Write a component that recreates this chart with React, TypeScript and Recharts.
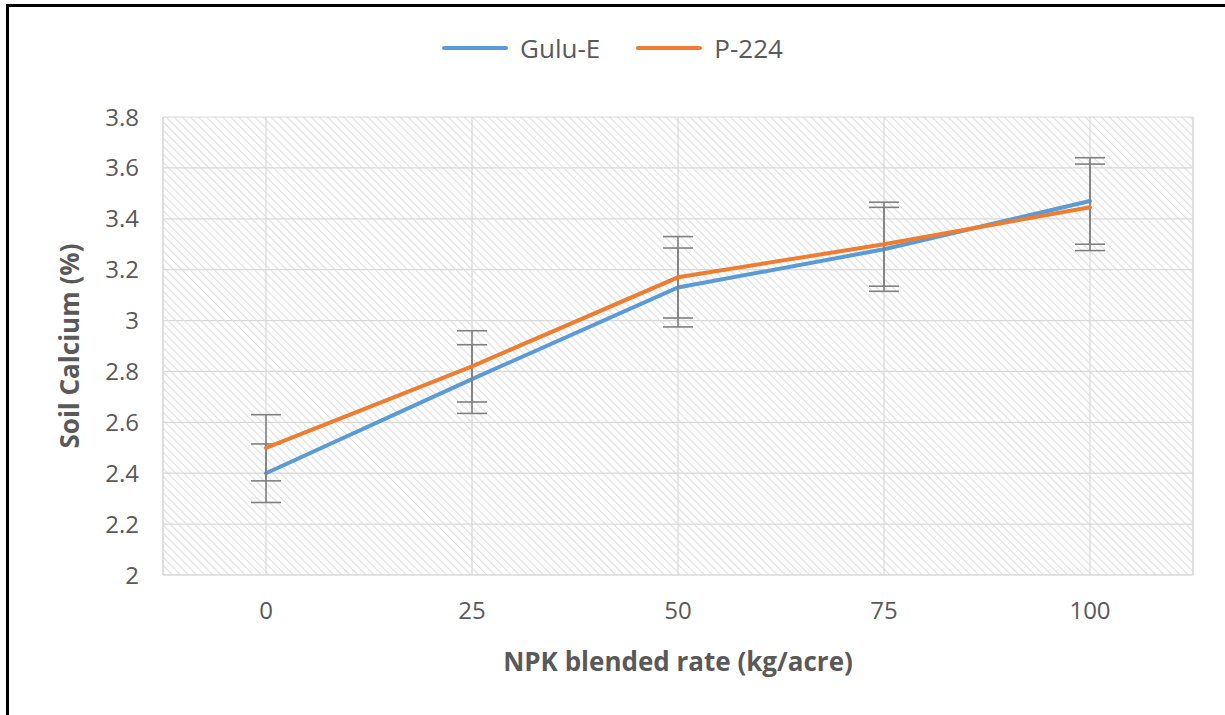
import { LineChart, Line, XAxis, YAxis, CartesianGrid, Legend, ErrorBar, ReferenceLine, Label } from 'recharts';

// NPK rate categories (kg/acre)
const rates = [0, 25, 50, 75, 100];

// soil calcium (%) per variety
const guluE = [2.40, 2.77, 3.13, 3.28, 3.47];
const p224 = [2.50, 2.82, 3.17, 3.30, 3.445];

// +/- error bar sizes
const guluErr = [0.115, 0.135, 0.155, 0.165, 0.17];
const p224Err = [0.13, 0.14, 0.16, 0.165, 0.17];

const yTicks = [2, 2.2, 2.4, 2.6, 2.8, 3, 3.2, 3.4, 3.6, 3.8];

const data = rates.map((r, i) => ({
    rate: r,
    guluE: guluE[i],
    p224: p224[i],
    guluErr: guluErr[i],
    p224Err: p224Err[i],
}));

const textColor = '#595959';
const gridColor = '#d9d9d9';

const LegendContent = (props: any) => {
    const items = props.payload || [];
    return (
        <div style={{ display: 'flex', justifyContent: 'center', alignItems: 'center', gap: 36 }}>
            {items.map((item: any) => (
                <div key={item.value} style={{ display: 'flex', alignItems: 'center' }}>
                    <svg width={66} height={10}>
                        <line x1={2} y1={5} x2={64} y2={5} stroke={item.color} strokeWidth={4} strokeLinecap='round' />
                    </svg>
                    <span style={{ marginLeft: 12, fontSize: 26, color: textColor }}>{item.value}</span>
                </div>
            ))}
        </div>
    );
};

const App = () => {
    return (
        <div style={{ position: 'fixed', left: 0, top: 0, width: 1225, height: 715, overflow: 'hidden', background: '#fff', fontFamily: '"Open Sans", sans-serif' }}>
            <div style={{ position: 'absolute', left: 6, top: 4, width: 1300, height: 800, border: '3px solid #000', pointerEvents: 'none' }} />
            <LineChart width={1225} height={715} data={data} margin={{ top: 117, right: 32, bottom: 0, left: 0 }}>
                <defs>
                    <pattern id='hatch' width={5.7} height={5.7} patternUnits='userSpaceOnUse' patternTransform='rotate(-45)'>
                        <line x1={0} y1={0} x2={0} y2={5.7} stroke='#dedede' strokeWidth={2.2} />
                    </pattern>
                </defs>
                <CartesianGrid fill='url(#hatch)' stroke={gridColor} strokeWidth={1.2} />
                <ReferenceLine x={-12.5} stroke={gridColor} strokeWidth={1.2} />
                <ReferenceLine x={112.5} stroke={gridColor} strokeWidth={1.2} />
                <XAxis
                    dataKey='rate'
                    type='number'
                    domain={[-12.5, 112.5]}
                    ticks={rates}
                    height={140}
                    axisLine={{ stroke: gridColor }}
                    tickLine={false}
                    tickSize={0}
                    tickMargin={27}
                    tick={{ fill: textColor, fontSize: 24 }}
                >
                    <Label value='NPK blended rate (kg/acre)' position='insideBottom' offset={44} style={{ fill: textColor, fontSize: 26, fontWeight: 700 }} />
                </XAxis>
                <YAxis
                    type='number'
                    domain={[2, 3.8]}
                    ticks={yTicks}
                    width={163}
                    axisLine={false}
                    tickLine={false}
                    tickSize={0}
                    tickMargin={24}
                    tick={{ fill: textColor, fontSize: 24 }}
                >
                    <Label value='Soil Calcium (%)' angle={-90} position='insideLeft' offset={70} style={{ fill: textColor, fontSize: 26, fontWeight: 700, textAnchor: 'middle' }} />
                </YAxis>
                <Legend verticalAlign='middle' layout='horizontal' content={<LegendContent />} wrapperStyle={{ top: 30, left: 0, width: 1225 }} />
                <Line name='Gulu-E' dataKey='guluE' stroke='#5b9bd5' strokeWidth={4} dot={false} strokeLinecap='round' isAnimationActive={false}>
                    <ErrorBar dataKey='guluErr' direction='y' width={15} stroke='#808080' strokeWidth={1.6} isAnimationActive={false} />
                </Line>
                <Line name='P-224' dataKey='p224' stroke='#ed7d31' strokeWidth={4} dot={false} strokeLinecap='round' isAnimationActive={false}>
                    <ErrorBar dataKey='p224Err' direction='y' width={15} stroke='#808080' strokeWidth={1.6} isAnimationActive={false} />
                </Line>
            </LineChart>
        </div>
    );
};

export default App;
